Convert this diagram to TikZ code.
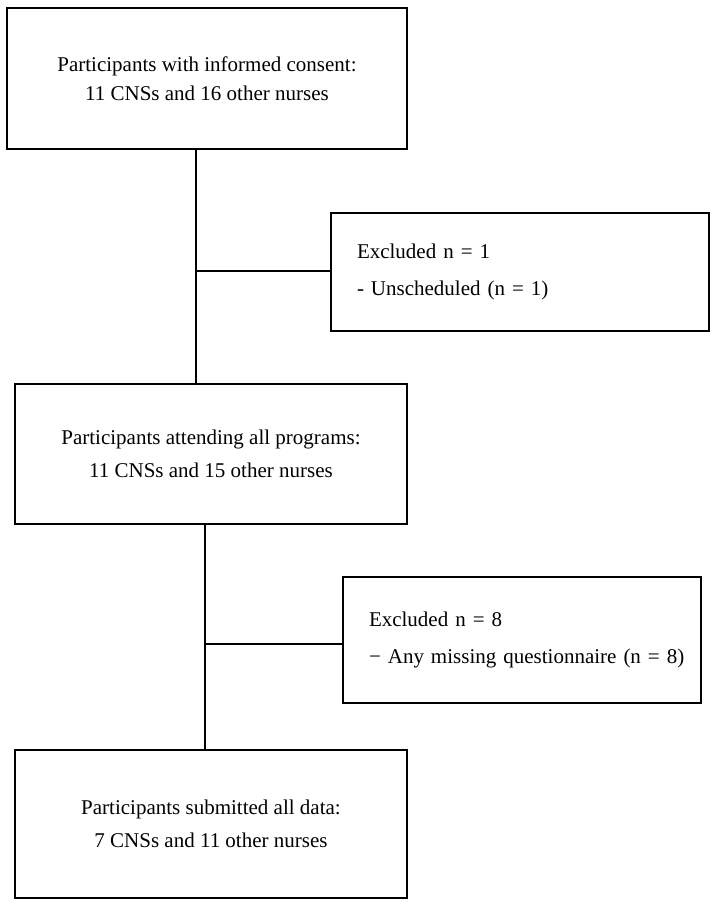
\documentclass[tikz,border=0pt]{standalone}
\usepackage{fontspec}
\setmainfont{Liberation Serif}
\begin{document}
\begin{tikzpicture}[x=1pt,y=-1pt,
  box/.style={draw=black, line width=1.6pt, rectangle, inner sep=0pt, align=center,
    font=\fontsize{21}{29}\selectfont},
  sidebox/.style={draw=black, line width=1.6pt, rectangle, inner ysep=0pt, inner xsep=26pt,
    align=left, font=\fontsize{21}{37}\selectfont},
  conn/.style={draw=black, line width=1.2pt}]
\useasboundingbox (0,0) rectangle (720,909);
\node[box, minimum width=400pt, minimum height=141pt] (b1) at (207,78.5)
  {Participants with informed consent:\\11 CNSs and 16 other nurses};
\node[sidebox, text width=326pt, minimum height=118pt] (b2) at (520,272)
  {Excluded n = 1\\\mbox{- Unscheduled (n = 1)}};
\node[box, minimum width=392pt, minimum height=140pt, font=\fontsize{21}{33}\selectfont] (b3) at (211,454)
  {Participants attending all programs:\\11 CNSs and 15 other nurses};
\node[sidebox, text width=306pt, minimum height=126pt] (b4) at (522,640)
  {Excluded n = 8\\\mbox{− Any missing questionnaire (n = 8)}};
\node[box, minimum width=392pt, minimum height=148pt, font=\fontsize{21}{33}\selectfont] (b5) at (211,824)
  {Participants submitted all data:\\7 CNSs and 11 other nurses};
\coordinate (j1) at (196,271);
\coordinate (j2) at (205,644);
\draw[conn] (b1.south -| j1) -- (b3.north -| j1);
\draw[conn] (j1) -- (j1 -| b2.west);
\draw[conn] (b3.south -| j2) -- (b5.north -| j2);
\draw[conn] (j2) -- (j2 -| b4.west);
\end{tikzpicture}
\end{document}
